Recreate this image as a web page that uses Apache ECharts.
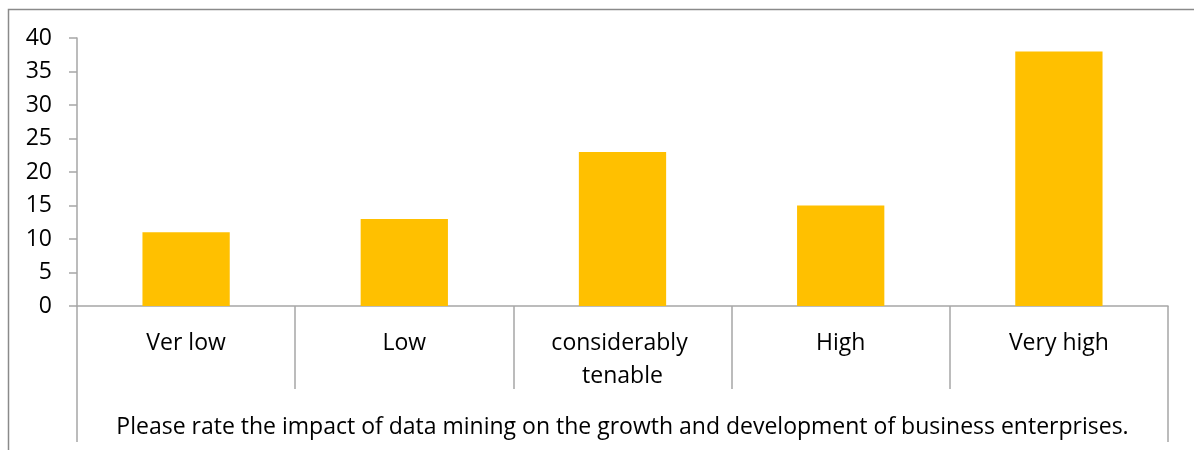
<!DOCTYPE html>
<html><head><meta charset="utf-8">
<script src="https://cdn.jsdelivr.net/npm/echarts@6/dist/echarts.min.js"></script>
<style>html,body{margin:0;padding:0;background:#fff}#c{width:1194px;height:450px}</style>
</head><body><div id="c"></div>
<script>
const categories = ["Ver low", "Low", "considerably tenable", "High", "Very high"];
const values = [11, 13, 23, 15, 38];
const axisTitle = "Please rate the impact of data mining on the growth and development of business enterprises.";
const yMin = 0, yMax = 40, yStep = 5;

const FONT = "Open Sans";
const FS = 23;
const chart = echarts.init(document.getElementById('c'), null, {renderer: 'canvas'});
chart.setOption({
  animation: false,
  backgroundColor: '#fff',
  graphic: [{type: 'rect', shape: {x: 8.5, y: 9.5, width: 1400, height: 600}, style: {fill: 'none', stroke: '#8a8a8a', lineWidth: 1.5}, silent: true}],
  grid: {left: 77, right: 26, top: 38, bottom: 144, containLabel: false},
  xAxis: [{
    type: 'category', data: categories, position: 'bottom',
    axisLine: {lineStyle: {color: '#a6a6a6', width: 1.5}},
    axisTick: {show: true, interval: 0, length: 83, lineStyle: {color: '#a6a6a6', width: 1.5}},
    axisLabel: {interval: 0, color: '#000', fontFamily: FONT, fontSize: FS, margin: 21, lineHeight: 33, width: 170, overflow: 'break'}
  }, {
    type: 'category', data: [axisTitle], position: 'bottom',
    axisLine: {show: false},
    axisTick: {show: true, interval: 0, length: 136, lineStyle: {color: '#a6a6a6', width: 1.5}},
    axisLabel: {interval: 0, color: '#000', fontFamily: FONT, fontSize: FS, lineHeight: 33, margin: 105}
  }],
  yAxis: {
    type: 'value', min: yMin, max: yMax, interval: yStep,
    axisLine: {show: true, lineStyle: {color: '#a6a6a6', width: 1.5}},
    axisTick: {show: true, length: 8, lineStyle: {color: '#a6a6a6', width: 1.5}},
    splitLine: {show: false},
    axisLabel: {color: '#000', fontFamily: FONT, fontSize: FS, margin: 25}
  },
  series: [{type: 'bar', data: values, xAxisIndex: 0, barWidth: '40%', itemStyle: {color: '#FFC000'}}]
});
</script></body></html>
